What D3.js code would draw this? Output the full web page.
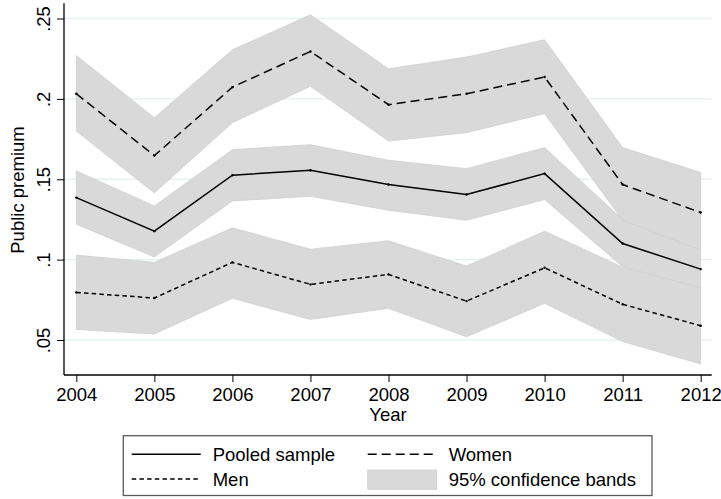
<!DOCTYPE html>
<html>
<head>
<meta charset="utf-8">
<script src="https://cdn.jsdelivr.net/npm/d3@7"></script>
<style>
  html, body { margin: 0; padding: 0; background: #fff; }
  svg { display: block; font-family: "Liberation Sans", Arial, sans-serif; }
</style>
</head>
<body>
<svg id="chart" width="721" height="499"></svg>
<script>
"use strict";

// values
const years = [2004, 2005, 2006, 2007, 2008, 2009, 2010, 2011, 2012];
const pooled   = [0.1386, 0.1177, 0.1525, 0.1556, 0.1467, 0.1405, 0.1535, 0.1100, 0.0941];
const pooledLo = [0.1220, 0.1017, 0.1365, 0.1394, 0.1307, 0.1245, 0.1374, 0.0955, 0.0820];
const pooledHi = [0.1552, 0.1334, 0.1684, 0.1715, 0.1618, 0.1566, 0.1697, 0.1250, 0.1060];
const women   = [0.2032, 0.1647, 0.2073, 0.2295, 0.1964, 0.2032, 0.2136, 0.1467, 0.1293];
const womenLo = [0.1800, 0.1415, 0.1852, 0.2078, 0.1738, 0.1790, 0.1908, 0.1245, 0.1059];
const womenHi = [0.2270, 0.1883, 0.2305, 0.2523, 0.2187, 0.2260, 0.2368, 0.1697, 0.1542];
const men   = [0.0796, 0.0761, 0.0983, 0.0846, 0.0908, 0.0742, 0.0949, 0.0722, 0.0589];
const menLo = [0.0566, 0.0537, 0.0759, 0.0628, 0.0697, 0.0520, 0.0728, 0.0490, 0.0351];
const menHi = [0.1028, 0.0983, 0.1198, 0.1065, 0.1117, 0.0960, 0.1177, 0.0953, 0.0825];

const yTicks = [0.05, 0.1, 0.15, 0.2, 0.25];
const yTickLabels = [".05", ".1", ".15", ".2", ".25"];
const legendLabels = ["Pooled sample", "Women", "Men", "95% confidence bands"];

const FONT = "18.5px";
const BAND = "#d9d9d9";

const svg = d3.select("#chart");
const plotLeft = 64, plotRight = 711.7, plotTop = 3.3, plotBottom = 375;

const x = d3.scaleLinear().domain([2004, 2012]).range([76.3, 700.7]);
const y = d3.scaleLinear().domain([0.05, 0.25]).range([340, 18.5]);

// grid lines
svg.append("g")
  .selectAll("line")
  .data(yTicks)
  .join("line")
  .attr("x1", plotLeft).attr("x2", plotRight)
  .attr("y1", d => y(d)).attr("y2", d => y(d))
  .attr("stroke", "#e8f0f1")
  .attr("stroke-width", 1.3);

function series(v, lo, hi) {
  return years.map((yr, i) => ({ yr: yr, v: v[i], lo: lo[i], hi: hi[i] }));
}
const groups = [
  { key: "pooled", data: series(pooled, pooledLo, pooledHi), dash: null },
  { key: "women", data: series(women, womenLo, womenHi), dash: "9,5" },
  { key: "men", data: series(men, menLo, menHi), dash: "4.5,3.2" }
];

const area = d3.area().x(d => x(d.yr)).y0(d => y(d.lo)).y1(d => y(d.hi));
const line = d3.line().x(d => x(d.yr)).y(d => y(d.v));

// confidence bands
svg.append("g")
  .selectAll("path")
  .data(groups)
  .join("path")
  .attr("d", d => area(d.data))
  .attr("fill", BAND)
  .attr("stroke", "#cfcfcf")
  .attr("stroke-width", 0.8);

// estimate lines
svg.append("g")
  .selectAll("path")
  .data(groups)
  .join("path")
  .attr("d", d => line(d.data))
  .attr("fill", "none")
  .attr("stroke", "#000")
  .attr("stroke-width", 1.5)
  .attr("stroke-dasharray", d => d.dash);

// little vertex dots
svg.append("g")
  .selectAll("circle")
  .data(groups.flatMap(g => g.data))
  .join("circle")
  .attr("cx", d => x(d.yr))
  .attr("cy", d => y(d.v))
  .attr("r", 1.2)
  .attr("fill", "#000");

// y axis
const yAxis = svg.append("g")
  .attr("transform", `translate(${plotLeft},0)`)
  .call(d3.axisLeft(y).tickValues(yTicks).tickSize(7).tickSizeOuter(0)
    .tickFormat((d, i) => yTickLabels[i]));
yAxis.select(".domain").remove();
yAxis.selectAll("text")
  .attr("transform", "rotate(-90)")
  .attr("x", 0).attr("y", -14).attr("dy", null)
  .attr("text-anchor", "middle")
  .style("font-size", FONT).attr("fill", "#000");
yAxis.append("line")
  .attr("x1", 0).attr("x2", 0).attr("y1", plotTop).attr("y2", plotBottom)
  .attr("stroke", "#000").attr("stroke-width", 1.3);

// x axis
const xAxis = svg.append("g")
  .attr("transform", `translate(0,${plotBottom})`)
  .call(d3.axisBottom(x).tickValues(years).tickSize(7).tickSizeOuter(0)
    .tickFormat(d3.format("d")));
xAxis.select(".domain").remove();
xAxis.selectAll("text")
  .attr("y", 25.7).attr("dy", null)
  .style("font-size", FONT).attr("fill", "#000");
xAxis.append("line")
  .attr("x1", plotLeft).attr("x2", plotRight).attr("y1", 0).attr("y2", 0)
  .attr("stroke", "#000").attr("stroke-width", 1.3);

// axis titles
svg.append("text")
  .attr("x", 388).attr("y", 421)
  .attr("text-anchor", "middle")
  .style("font-size", FONT)
  .text("Year");
svg.append("text")
  .attr("transform", "translate(24,190) rotate(-90)")
  .attr("text-anchor", "middle")
  .style("font-size", FONT)
  .text("Public premium");

// legend
const leg = svg.append("g");
leg.append("rect")
  .attr("x", 123.3).attr("y", 435.7)
  .attr("width", 528.7).attr("height", 59.8)
  .attr("fill", "#fff")
  .attr("stroke", "#5a5a5a").attr("stroke-width", 1.3);

const legendItems = [
  { label: legendLabels[0], col: 0, row: 0, type: "line", dash: null },
  { label: legendLabels[1], col: 1, row: 0, type: "line", dash: "9,5" },
  { label: legendLabels[2], col: 0, row: 1, type: "line", dash: "4.5,3.2" },
  { label: legendLabels[3], col: 1, row: 1, type: "band" }
];
const keyX = [131.7, 367.7], keyW = 69, rowY = [454.3, 479];

legendItems.forEach(it => {
  const kx = keyX[it.col], ky = rowY[it.row];
  if (it.type === "line") {
    leg.append("line")
      .attr("x1", kx).attr("x2", kx + keyW)
      .attr("y1", ky).attr("y2", ky)
      .attr("stroke", "#000").attr("stroke-width", 1.5)
      .attr("stroke-dasharray", it.dash);
  } else {
    leg.append("rect")
      .attr("x", kx).attr("y", ky - 9)
      .attr("width", keyW).attr("height", 19.3)
      .attr("fill", BAND).attr("stroke", "#cfcfcf").attr("stroke-width", 0.8);
  }
  leg.append("text")
    .attr("x", kx + keyW + 12)
    .attr("y", ky + 6.6)
    .style("font-size", FONT)
    .text(it.label);
});
</script>
</body>
</html>
